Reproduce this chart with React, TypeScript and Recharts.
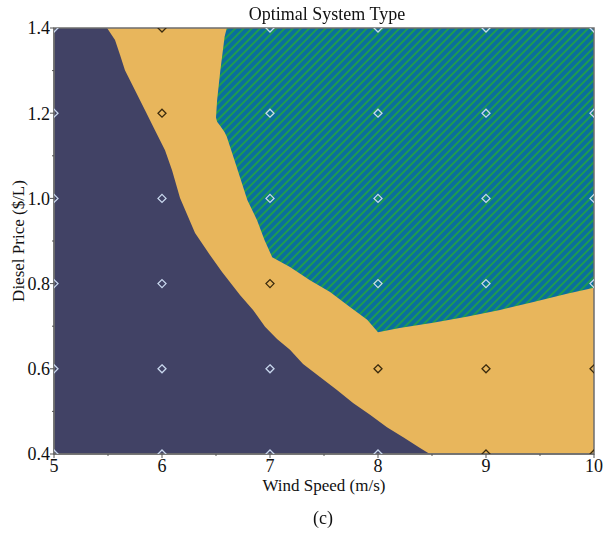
import React from 'react';
import { ComposedChart, Area, Scatter, XAxis, YAxis, ReferenceArea, Label } from 'recharts';

const windSpeeds = [5, 6, 7, 8, 9, 10];
const dieselPrices = [0.4, 0.6, 0.8, 1.0, 1.2, 1.4];
const xTicks = [5, 5.5, 6, 6.5, 7, 7.5, 8, 8.5, 9, 9.5, 10];
const yTicks = [0.4, 0.5, 0.6, 0.7, 0.8, 0.9, 1.0, 1.1, 1.2, 1.3, 1.4];

// optimal type at each sample point, rows follow dieselPrices, columns follow windSpeeds
// D = lower-left region, H = middle band, W = upper-right region
const gridTypes = [
  ['D', 'D', 'D', 'D', 'H', 'H'],
  ['D', 'D', 'D', 'H', 'H', 'H'],
  ['D', 'D', 'H', 'W', 'W', 'W'],
  ['D', 'D', 'W', 'W', 'W', 'W'],
  ['D', 'H', 'W', 'W', 'W', 'W'],
  ['D', 'H', 'W', 'W', 'W', 'W'],
];

// upper edge of the D region
const dEdgeX = [5.0, 5.491, 5.565, 5.611, 5.657, 5.75, 5.843, 5.935, 6.028, 6.093, 6.167, 6.306, 6.444, 6.556, 6.722, 6.843, 6.954, 7.065, 7.185, 7.306, 7.463, 7.62, 7.769, 7.926, 8.083, 8.241, 8.389, 8.48];
const dEdgeY = [1.4, 1.4, 1.372, 1.337, 1.301, 1.254, 1.207, 1.16, 1.113, 1.066, 1.001, 0.919, 0.867, 0.827, 0.773, 0.738, 0.699, 0.67, 0.645, 0.611, 0.581, 0.55, 0.52, 0.492, 0.463, 0.438, 0.414, 0.4];

// lower and upper edge of the W region
const wEdgeX = [6.5, 6.51, 6.54, 6.58, 6.6, 6.69, 6.79, 6.88, 6.95, 7.02, 7.185, 7.37, 7.556, 7.74, 7.9, 8.0, 8.2, 8.51, 8.82, 9.13, 9.44, 9.75, 10.0];
const wEdgeLow = [1.19, 1.18, 1.17, 1.155, 1.145, 1.075, 0.996, 0.949, 0.902, 0.862, 0.839, 0.808, 0.78, 0.745, 0.715, 0.686, 0.696, 0.708, 0.722, 0.738, 0.757, 0.776, 0.79];
const wEdgeHigh = [1.19, 1.23, 1.3, 1.38, 1.4, 1.4, 1.4, 1.4, 1.4, 1.4, 1.4, 1.4, 1.4, 1.4, 1.4, 1.4, 1.4, 1.4, 1.4, 1.4, 1.4, 1.4, 1.4];

const yMin = dieselPrices[0];
const yMax = dieselPrices[dieselPrices.length - 1];

const allX = Array.from(new Set([...dEdgeX, ...wEdgeX])).sort((a, b) => a - b);
const regionData = allX.map((x) => {
  const i = dEdgeX.indexOf(x);
  const j = wEdgeX.indexOf(x);
  return {
    x,
    full: [yMin, yMax],
    dRegion: i >= 0 ? dEdgeY[i] : null,
    wRegion: j >= 0 ? [wEdgeLow[j], wEdgeHigh[j]] : null,
  };
});

const lightPts: { x: number; y: number }[] = [];
const darkPts: { x: number; y: number }[] = [];
dieselPrices.forEach((p, r) => {
  windSpeeds.forEach((w, c) => {
    (gridTypes[r][c] === 'H' ? darkPts : lightPts).push({ x: w, y: p });
  });
});

const FONT = '"Liberation Serif", "Times New Roman", serif';

const diamond = (color: string) => (props: any) => {
  const { cx, cy } = props;
  const s = 4;
  return (
    <path
      d={`M${cx},${cy - s}L${cx + s},${cy}L${cx},${cy + s}L${cx - s},${cy}Z`}
      fill="none"
      stroke={color}
      strokeWidth={1.3}
    />
  );
};

const XTick = (props: any) => {
  const { x, y, payload } = props;
  const axisY = y - 5;
  const major = Number.isInteger(payload.value);
  return (
    <g>
      <line x1={x} x2={x} y1={axisY} y2={axisY + (major ? 4 : 2)} stroke="#555" strokeWidth={1} />
      {major && (
        <text x={x} y={axisY + 5} dy="0.71em" textAnchor="middle" fontFamily={FONT} fontSize={18} fill="#111">
          {payload.value}
        </text>
      )}
    </g>
  );
};

const YTick = (props: any) => {
  const { x, y, payload } = props;
  const axisX = x + 5;
  const major = Math.round(payload.value * 10) % 2 === 0;
  return (
    <g>
      <line x1={axisX - (major ? 4 : 2)} x2={axisX} y1={y} y2={y} stroke="#555" strokeWidth={1} />
      {major && (
        <text x={axisX - 4} y={y} dy="0.355em" textAnchor="end" fontFamily={FONT} fontSize={18} fill="#111">
          {payload.value.toFixed(1)}
        </text>
      )}
    </g>
  );
};

export default function App() {
  return (
    <div style={{ position: 'fixed', left: 0, top: 0, width: 604, height: 540, fontFamily: FONT, background: '#fff' }}>
      <ComposedChart width={604} height={540} data={regionData} margin={{ top: 28, right: 10, bottom: 46, left: 0 }}>
        <defs>
          <pattern id="wHatch" width={5.8} height={5.8} patternUnits="userSpaceOnUse" patternTransform="rotate(45)">
            <rect width={5.8} height={5.8} fill="#0a6f9c" />
            <line x1={1} y1={0} x2={1} y2={5.8} stroke="#1f9f4a" strokeWidth={1.8} />
          </pattern>
        </defs>
        <XAxis
          dataKey="x"
          type="number"
          domain={[5, 10]}
          ticks={xTicks}
          allowDataOverflow
          tickLine={false}
          tickSize={4}
          tickMargin={1}
          tick={<XTick />}
          axisLine={{ stroke: '#6e6e6e', strokeWidth: 1.5 }}
          height={40}
        >
          <Label value="Wind Speed (m/s)" position="insideBottom" offset={3} style={{ fontFamily: FONT, fontSize: 17, fill: '#111' }} />
        </XAxis>
        <YAxis
          type="number"
          domain={[yMin, yMax]}
          ticks={yTicks}
          allowDataOverflow
          tickLine={false}
          tickSize={4}
          tickMargin={1}
          tick={<YTick />}
          axisLine={{ stroke: '#6e6e6e', strokeWidth: 1.5 }}
          width={54}
        >
          <Label
            value="Diesel Price ($/L)"
            angle={-90}
            position="insideLeft"
            offset={18}
            style={{ fontFamily: FONT, fontSize: 17, fill: '#111', textAnchor: 'middle' }}
          />
        </YAxis>
        <Area dataKey="full" type="linear" stroke="none" fill="#e8b65c" fillOpacity={1} isAnimationActive={false} />
        <Area dataKey="dRegion" type="linear" stroke="none" fill="#414265" fillOpacity={1} connectNulls isAnimationActive={false} />
        <Area dataKey="wRegion" type="linear" stroke="none" fill="url(#wHatch)" fillOpacity={1} connectNulls isAnimationActive={false} />
        <Scatter data={lightPts} dataKey="y" shape={diamond('#c9d8ee')} isAnimationActive={false} />
        <Scatter data={darkPts} dataKey="y" shape={diamond('#3a2a0e')} isAnimationActive={false} />
        <ReferenceArea x1={5} x2={10} y1={yMin} y2={yMax} fill="none" stroke="#6e6e6e" strokeWidth={1.5} ifOverflow="visible" />
      </ComposedChart>
      <div
        style={{
          position: 'absolute',
          left: 0,
          width: 654,
          top: 5,
          textAlign: 'center',
          fontSize: 18,
          lineHeight: '18px',
          color: '#111',
        }}
      >
        Optimal System Type
      </div>
      <div
        style={{
          position: 'absolute',
          left: 0,
          width: 646,
          top: 509,
          textAlign: 'center',
          fontSize: 18,
          lineHeight: '18px',
          color: '#111',
        }}
      >
        (c)
      </div>
    </div>
  );
}
